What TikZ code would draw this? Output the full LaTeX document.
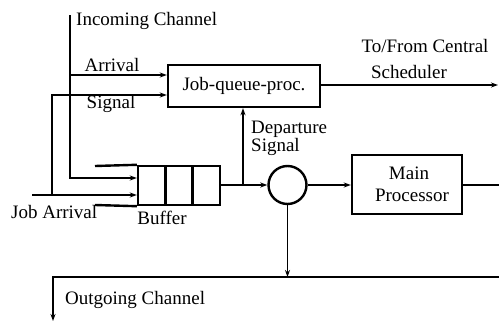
\documentclass[tikz,border=0pt]{standalone}
\usepackage{fontspec}
\setmainfont{Liberation Serif}
\usetikzlibrary{arrows.meta}
\begin{document}
\begin{tikzpicture}[x=1pt,y=-1pt,
  box/.style={draw,line width=2.4pt,inner sep=0pt},
  conn/.style={line width=1.3pt,-{Stealth[length=7pt,width=5pt]}},
  plain/.style={line width=1.3pt},
  lbl/.style={font=\fontsize{19}{16}\selectfont,inner sep=0pt},
  cell/.style={draw,line width=2.4pt,minimum width=27.3pt,minimum height=39pt,inner sep=0pt}]
\useasboundingbox (0,0) rectangle (499,324);
% boxes
\node[box,minimum width=152pt,minimum height=42pt,lbl] (jq) at (244,86) {Job-queue-proc.};
\node[box,minimum width=110pt,minimum height=59pt,lbl,align=center] (mp) at (407,184.5) {\hspace*{4pt}Main\\[6pt]\hspace*{10pt}Processor};
\node[draw,circle,line width=2.4pt,minimum size=38pt,inner sep=0pt] (c) at (287.5,185) {};
% buffer cells
\node[cell] (b1) at (151.65,185.5) {};
\node[cell] (b2) at (178.95,185.5) {};
\node[cell] (b3) at (206.25,185.5) {};
\coordinate (btl) at (95,166);
\coordinate (bbl) at (95,205);
\draw[line width=2.4pt] (btl) -- (b1.north west);
\draw[line width=2.4pt] (bbl) -- (b1.south west);
% labels
\node[lbl,anchor=west] (tin) at (76,21) {Incoming Channel};
\node[lbl] (tarr) at (112,65) {Arrival};
\node[lbl] (tsig) at (111,104) {Signal};
\node[lbl] (tcen) at (425,46) {To/From Central};
\node[lbl] (tsch) at (409,72) {Scheduler};
\node[lbl,anchor=west,align=left] (tdep) at (251,138) {Departure\\Signal};
\node[lbl,anchor=west] (tja) at (11,212) {Job Arrival};
\node[lbl] (tbuf) at (162,218) {Buffer};
\node[lbl,anchor=west] (tout) at (65,300) {Outgoing Channel};
% coordinates
\coordinate (inTop) at (70,15);
\coordinate (inBot) at (70,178);
\coordinate (arrL) at (70,75);
\coordinate (jaL) at (32,195);
\coordinate (sigB) at (52,195);
\coordinate (sigT) at (52,95);
\coordinate (schR) at (498,85);
\coordinate (depB) at (243,185);
\coordinate (mpR) at (499,185);
\coordinate (outR) at (499,277);
\coordinate (outL) at (53,277);
\coordinate (outB) at (53,321);
\coordinate (cB) at (287.5,277);
% connectors
\draw[conn] (inTop) -- (inBot) -- (b1.west |- inBot);
\draw[conn] (arrL) -- (arrL -| jq.west);
\draw[conn] (jaL) -- (b1.west |- jaL);
\draw[conn] (sigB) -- (sigT) -- (sigT -| jq.west);
\draw[conn] (jq.east |- schR) -- (schR);
\draw[conn] (b3.east |- c.west) -- (c.west);
\draw[conn] (depB) -- (depB |- jq.south);
\draw[conn] (c.east) -- (mp.west |- c.east);
\draw[plain] (mp.east |- mpR) -- (mpR);
\draw[conn] (c.south) -- (cB);
\draw[conn] (outR) -- (outL) -- (outB);
\end{tikzpicture}
\end{document}
